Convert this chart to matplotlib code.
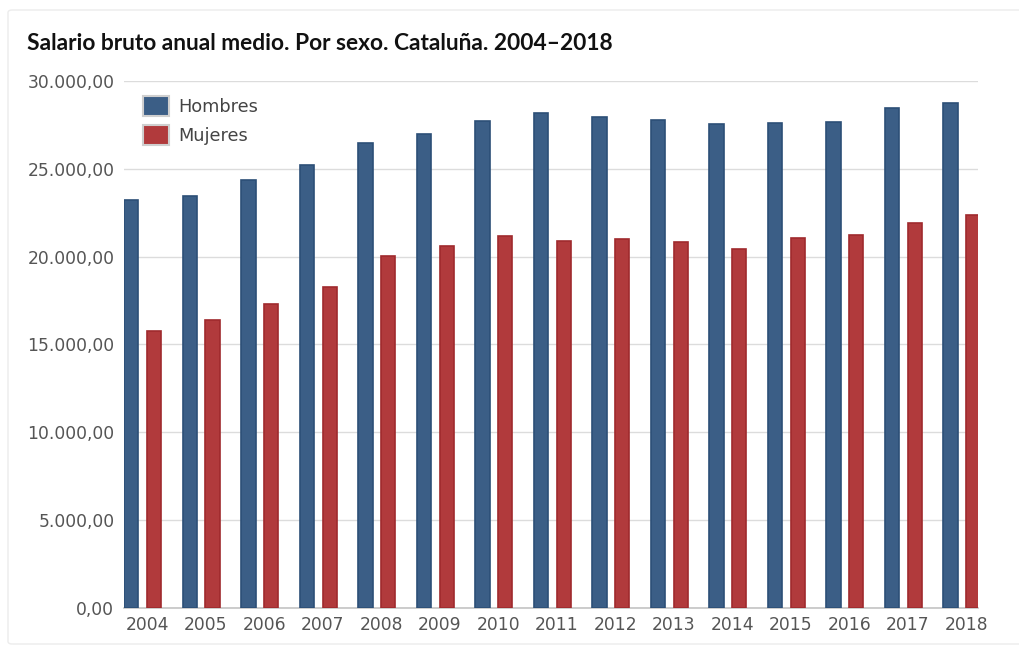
import numpy as np
import matplotlib
matplotlib.use("Agg")
import matplotlib.pyplot as plt
from matplotlib.patches import Rectangle, FancyBboxPatch
from matplotlib.ticker import FuncFormatter, MultipleLocator

years = ['2004', '2005', '2006', '2007', '2008', '2009', '2010', '2011',
         '2012', '2013', '2014', '2015', '2016', '2017', '2018']
hombres = [23240, 23480, 24390, 25200, 26470, 27000, 27710, 28150,
           27940, 27800, 27580, 27630, 27690, 28440, 28760]
mujeres = [15790, 16400, 17280, 18250, 20040, 20590, 21150, 20910,
           21030, 20850, 20420, 21040, 21210, 21900, 22390]

c_h, e_h = '#3b5e86', '#2c4f77'
c_m, e_m = '#b13a3c', '#a02a2d'

def es_fmt(v, pos):
    s = f'{v:,.2f}'
    return s.replace(',', 'X').replace('.', ',').replace('X', '.')

fig = plt.figure(figsize=(10.2, 6.47), dpi=100)

# card border
fig.patches.append(FancyBboxPatch((8 / 1020, 3 / 647), 1.2, 634 / 647,
                                  boxstyle='round,pad=0,rounding_size=0.004',
                                  transform=fig.transFigure, fill=False,
                                  edgecolor='#ececec', linewidth=1.0))

ax = fig.add_axes([124 / 1020, 1 - 608 / 647, 854 / 1020, 527 / 647])

x = np.arange(len(years))
w = 0.245
ax.bar(x - 0.27, hombres, width=w, color=c_h, edgecolor=e_h, linewidth=1.2, zorder=3)
ax.bar(x + 0.12, mujeres, width=w, color=c_m, edgecolor=e_m, linewidth=1.2, zorder=3)

ax.set_xlim(-0.395, 14.2)
ax.set_ylim(0, 30000)
ax.yaxis.set_major_locator(MultipleLocator(5000))
ax.yaxis.set_major_formatter(FuncFormatter(es_fmt))
ax.set_xticks(x)
ax.set_xticklabels(years)

ax.grid(axis='y', color='#dcdcdc', linewidth=1.0, zorder=0)
for s in ['top', 'right', 'left']:
    ax.spines[s].set_visible(False)
ax.spines['bottom'].set_color('#c4c4c4')
ax.spines['bottom'].set_linewidth(1.2)
ax.tick_params(axis='both', length=0, labelsize=12.3, labelcolor='#555555')
ax.tick_params(axis='y', pad=7)
ax.tick_params(axis='x', pad=6)

handles = [Rectangle((0, 0), 1, 1, facecolor=c_h, edgecolor='#cfcfcf', linewidth=1.5),
           Rectangle((0, 0), 1, 1, facecolor=c_m, edgecolor='#cfcfcf', linewidth=1.5)]
ax.legend(handles, ['Hombres', 'Mujeres'], loc='upper left',
          bbox_to_anchor=(0.008, 0.995), frameon=False, fontsize=12.8,
          handlelength=1.45, handleheight=1.35, handletextpad=0.5,
          labelspacing=0.5, labelcolor='#444444', borderaxespad=0.3)

fig.text(27 / 1020, 1 - 43 / 647, 'Salario bruto anual medio. Por sexo. Cataluña. 2004–2018',
         fontsize=16.4, fontweight='bold', family='Lato', color='#111111',
         va='center', ha='left')

fig.savefig('out.png', dpi=100, facecolor='white')
